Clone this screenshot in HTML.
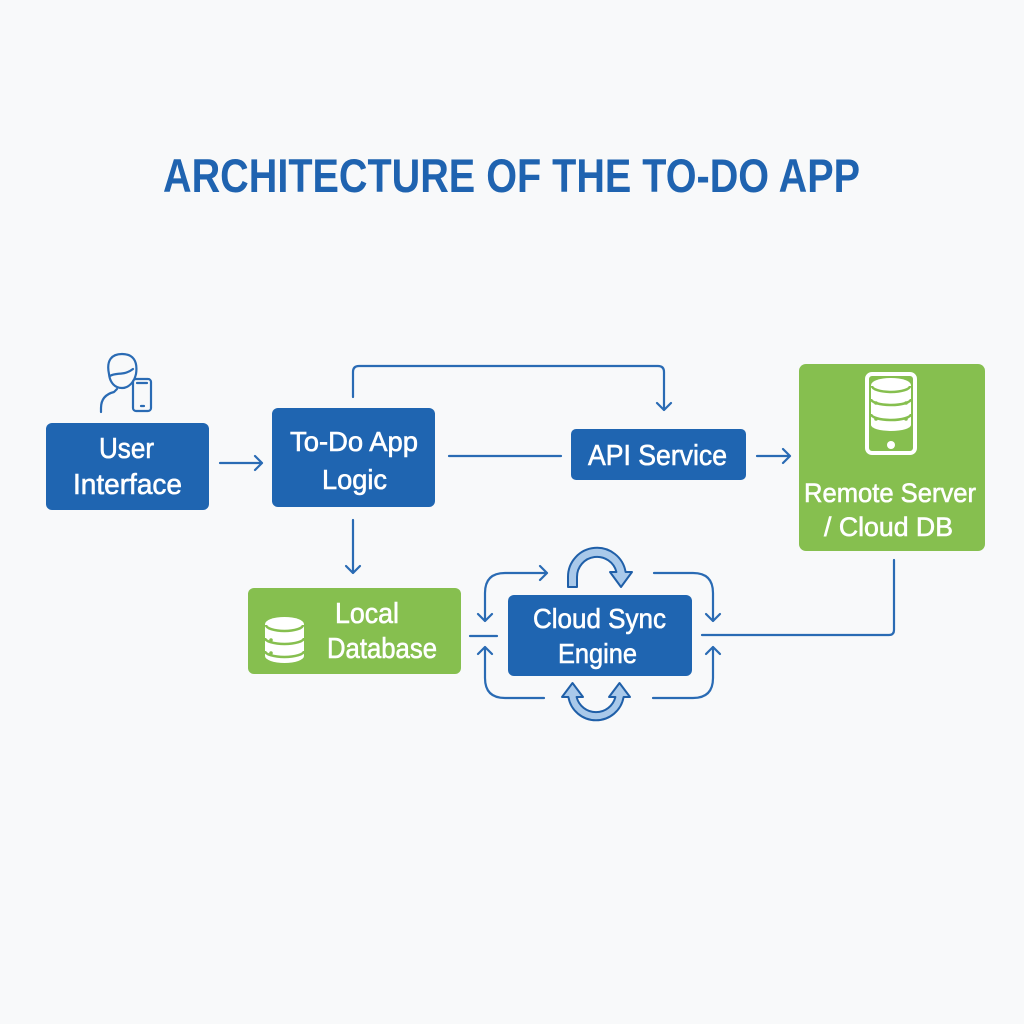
<!DOCTYPE html>
<html><head><meta charset="utf-8"><style>
html,body{margin:0;padding:0;background:#f8f9fa;}
svg{display:block;}
text{font-family:"Liberation Sans",sans-serif;}
</style></head><body>
<svg width="1024" height="1024" viewBox="0 0 1024 1024" xmlns="http://www.w3.org/2000/svg">
<rect width="1024" height="1024" fill="#f8f9fa"/>
<text x="163" y="192" font-size="47" font-weight="bold" fill="#1f63b0" textLength="697" lengthAdjust="spacingAndGlyphs">ARCHITECTURE OF THE TO-DO APP</text>

<g fill="none" stroke="#2a6bb4" stroke-width="2.2" stroke-linecap="round" stroke-linejoin="round">
  <!-- person icon -->
  <path d="M109,374 C106,360 112,354 122,354 C133,354 138,361 136,374 C134,383 128,388 122,388 C115,388 110,383 109,374 Z"/>
  <path d="M110,376 C116,372 124,376 133,369"/>
  <path d="M101,412 L101,408 C101,399 106,394 114,392 L117,389"/>
  <rect x="133" y="379" width="18" height="32" rx="3"/>
  <path d="M137,383 L147,383"/>
  <path d="M141,406 L144,406"/>
  <!-- UI -> Logic -->
  <path d="M220,463 L262,463 M255,456 L262,463 L255,470"/>
  <!-- top connector -->
  <path d="M353,397 L353,372 Q353,366 359,366 L658,366 Q664,366 664,372 L664,410 M657,403 L664,410 L671,403"/>
  <!-- Logic -> API -->
  <path d="M449,456 L561,456"/>
  <!-- API -> Remote -->
  <path d="M757,456 L790,456 M783,449 L790,456 L783,463"/>
  <!-- Logic -> Local DB -->
  <path d="M353,520 L353,573 M346,566 L353,573 L360,566"/>
  <!-- Local DB - Sync -->
  <path d="M470,636 L497,636"/>
  <!-- Sync -> Remote -->
  <path d="M702,635 L889,635 Q894,635 894,630 L894,560"/>
  <!-- loops -->
  <path d="M547,573 L505,573 Q485,573 485,593 L485,621 M478,614 L485,621 L492,614 M540,566 L547,573 L540,580"/>
  <path d="M485,647 L485,678 Q485,698 505,698 L544,698 M478,654 L485,647 L492,654"/>
  <path d="M654,573 L693,573 Q713,573 713,593 L713,621 M706,614 L713,621 L720,614"/>
  <path d="M713,647 L713,678 Q713,698 693,698 L653,698 M706,654 L713,647 L720,654"/>
</g>

<!-- sync icons -->
<g fill="#a9c9ea" stroke="#1f5fa8" stroke-width="2" stroke-linejoin="round">
  <path d="M568,587 L568,577 A29,29 0 0 1 625.6,572 L632,572 L621,587 L610,572 L616.4,572 A20,20 0 0 0 577,577 L577,587 Z"/>
  <path d="M568.4,697 A28,28 0 0 0 623.6,697 L630,697 L619.5,683 L609,697 L615.4,697 A20,20 0 0 1 576.6,697 L583,697 L572.5,683 L562,697 Z"/>
</g>

<!-- boxes -->
<rect x="46" y="423" width="163" height="87" rx="6" fill="#1f65b1"/>
<rect x="272" y="408" width="163" height="99" rx="6" fill="#1f65b1"/>
<rect x="571" y="429" width="175" height="51" rx="5" fill="#1f65b1"/>
<rect x="508" y="595" width="184" height="81" rx="6" fill="#1f65b1"/>
<rect x="799" y="364" width="186" height="187" rx="7" fill="#86bf4f"/>
<rect x="248" y="588" width="213" height="86" rx="6" fill="#86bf4f"/>

<!-- remote phone icon -->
<g>
  <rect x="867" y="374" width="48" height="79" rx="5" fill="none" stroke="#fff" stroke-width="4"/>
  <path d="M871,385 A20,7 0 0 1 911,385 L911,425 A20,6 0 0 1 871,425 Z" fill="#fff"/>
  <g fill="none" stroke="#86bf4f" stroke-width="2.5">
    <path d="M872,386 A19,6 0 0 0 910,386"/>
    <path d="M871,399 A20,6 0 0 0 911,399"/>
    <path d="M871,414 A20,6 0 0 0 911,414"/>
  </g>
  <g fill="#86bf4f">
    <circle cx="876" cy="403" r="1.8"/><circle cx="906" cy="403" r="1.8"/>
    <circle cx="876" cy="419" r="1.8"/><circle cx="906" cy="419" r="1.8"/>
  </g>
  <circle cx="891" cy="445" r="4" fill="#fff"/>
</g>

<!-- local db icon -->
<g>
  <path d="M265,624 A19.5,7 0 0 1 304,624 L304,656 A19.5,7 0 0 1 265,656 Z" fill="#fff"/>
  <g fill="none" stroke="#86bf4f" stroke-width="2.5">
    <path d="M266,625 A18.5,6 0 0 0 303,625"/>
    <path d="M265,638 A19.5,6 0 0 0 304,638"/>
    <path d="M265,651 A19.5,6 0 0 0 304,651"/>
  </g>
  <g fill="#86bf4f">
    <circle cx="271" cy="640" r="1.8"/><circle cx="271" cy="653" r="1.8"/>
  </g>
</g>

<!-- labels -->
<g fill="#fff" stroke="#fff" stroke-width="0.6">
  <text x="99" y="458" font-size="29" textLength="55" lengthAdjust="spacingAndGlyphs">User</text>
  <text x="73" y="494" font-size="29" textLength="109" lengthAdjust="spacingAndGlyphs">Interface</text>
  <text x="290" y="451" font-size="28" textLength="128" lengthAdjust="spacingAndGlyphs">To-Do App</text>
  <text x="322" y="489" font-size="28" textLength="65" lengthAdjust="spacingAndGlyphs">Logic</text>
  <text x="588" y="465" font-size="29" textLength="139" lengthAdjust="spacingAndGlyphs">API Service</text>
  <text x="804" y="502" font-size="27" textLength="172" lengthAdjust="spacingAndGlyphs">Remote Server</text>
  <text x="824" y="536" font-size="27" textLength="129" lengthAdjust="spacingAndGlyphs">/ Cloud DB</text>
  <text x="335" y="623" font-size="29" textLength="64" lengthAdjust="spacingAndGlyphs">Local</text>
  <text x="327" y="658" font-size="29" textLength="110" lengthAdjust="spacingAndGlyphs">Database</text>
  <text x="533" y="628" font-size="28" textLength="133" lengthAdjust="spacingAndGlyphs">Cloud Sync</text>
  <text x="558" y="663" font-size="28" textLength="79" lengthAdjust="spacingAndGlyphs">Engine</text>
</g>
</svg>
</body></html>
